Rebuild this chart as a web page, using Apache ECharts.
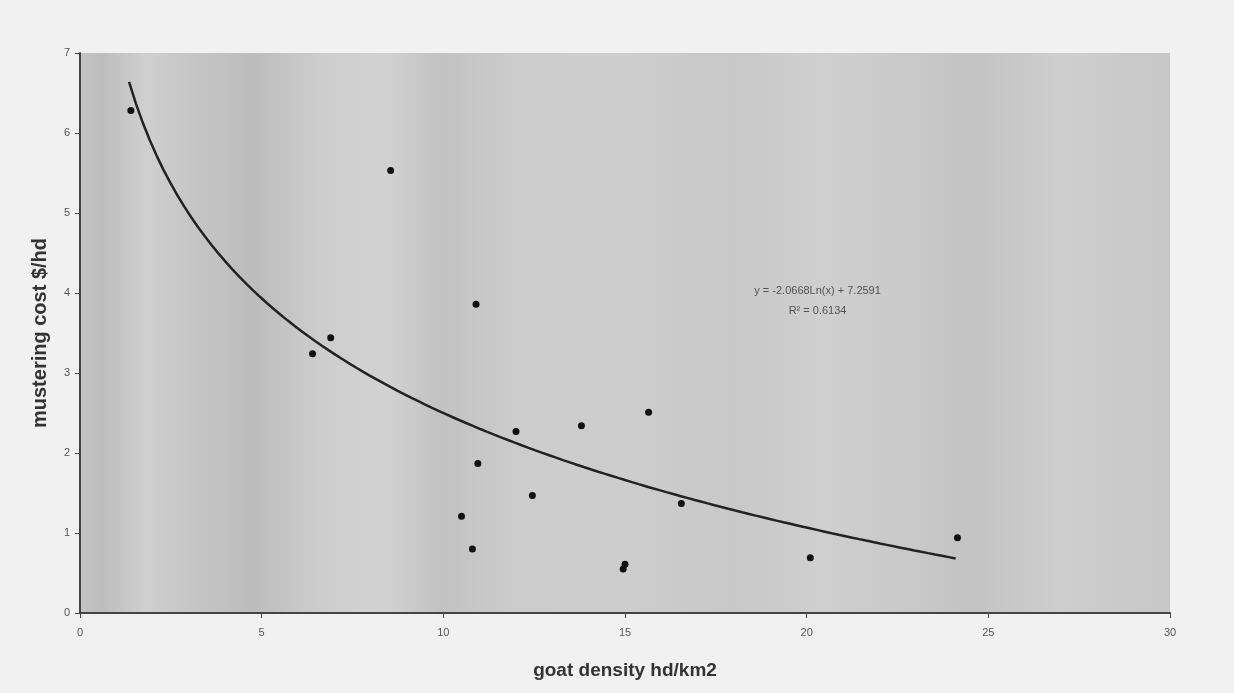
<!DOCTYPE html>
<html><head><meta charset="utf-8">
<script src="https://cdn.jsdelivr.net/npm/echarts@6/dist/echarts.min.js"></script>
<style>html,body{margin:0;padding:0;background:#f1f1f1;}#c{width:1234px;height:693px;}</style>
</head><body><div id="c"></div>
<script>
// goat density (hd/km2)
var densityX = [1.4, 8.55, 10.9, 6.9, 6.4, 12.0, 13.8, 15.65, 10.95, 12.45, 10.5, 10.8, 16.55, 15.0, 14.95, 20.1, 24.15];
// mustering cost ($/hd)
var costY =    [6.28, 5.53, 3.86, 3.44, 3.24, 2.27, 2.34, 2.51, 1.87, 1.47, 1.21, 0.80, 1.37, 0.61, 0.55, 0.69, 0.94];
// logarithmic trendline coefficients shown on chart
var trendA = -2.0668, trendB = 7.2591;
var trendRange = [1.35, 24.1];
var xTicks = [0, 5, 10, 15, 20, 25, 30];
var yTicks = [0, 1, 2, 3, 4, 5, 6, 7];
var eqText = 'y = -2.0668Ln(x) + 7.2591';
var r2Text = 'R² = 0.6134';
var eqAnchor = [20.3, 4.03];
var r2Anchor = [20.3, 3.78];

var points = densityX.map(function (x, i) { return [x, costY[i]]; });
var trend = [];
for (var k = 0; k <= 120; k++) {
  var x = trendRange[0] + (trendRange[1] - trendRange[0]) * k / 120;
  trend.push([x, trendA * Math.log(x) + trendB]);
}

var chart = echarts.init(document.getElementById('c'));
chart.setOption({
  backgroundColor: '#f1f1f1',
  animation: false,
  grid: {
    left: 80, right: 64, top: 53, bottom: 80, show: true, borderWidth: 0,
    backgroundColor: {
      type: 'linear', x: 0, y: 0, x2: 1, y2: 0,
      colorStops: [
        {offset: 0, color: '#c4c4c4'}, {offset: 0.02, color: '#bdbdbd'},
        {offset: 0.06, color: '#cfcfcf'}, {offset: 0.1, color: '#c6c6c6'},
        {offset: 0.16, color: '#bcbcbc'}, {offset: 0.22, color: '#cdcdcd'},
        {offset: 0.28, color: '#d2d2d2'}, {offset: 0.33, color: '#c2c2c2'},
        {offset: 0.4, color: '#cccccc'}, {offset: 0.5, color: '#cdcdcd'},
        {offset: 0.6, color: '#c8c8c8'}, {offset: 0.68, color: '#cfcfcf'},
        {offset: 0.76, color: '#c9c9c9'}, {offset: 0.82, color: '#c3c3c3'},
        {offset: 0.9, color: '#cecece'}, {offset: 1, color: '#c7c7c7'}
      ]
    }
  },
  xAxis: {
    type: 'value', min: 0, max: 30, interval: 5,
    name: 'goat density hd/km2', nameLocation: 'middle', nameGap: 48,
    nameTextStyle: {fontFamily: 'Liberation Sans', fontWeight: 'bold', fontSize: 19, color: '#333'},
    axisLine: {show: true, lineStyle: {color: '#444', width: 2}},
    axisTick: {show: true, length: 5, lineStyle: {color: '#444'}},
    axisLabel: {fontFamily: 'Liberation Sans', fontSize: 11, color: '#555', margin: 14,
      formatter: function (v) { return xTicks.indexOf(v) >= 0 ? String(v) : ''; }},
    splitLine: {show: false}
  },
  yAxis: {
    type: 'value', min: 0, max: 7, interval: 1,
    name: 'mustering cost $/hd', nameLocation: 'middle', nameGap: 30,
    nameTextStyle: {fontFamily: 'Liberation Sans', fontWeight: 'bold', fontSize: 20, color: '#333'},
    axisLine: {show: true, lineStyle: {color: '#444', width: 2}},
    axisTick: {show: true, length: 5, lineStyle: {color: '#444'}},
    axisLabel: {fontFamily: 'Liberation Sans', fontSize: 11, color: '#555', margin: 10,
      formatter: function (v) { return yTicks.indexOf(v) >= 0 ? String(v) : ''; }},
    splitLine: {show: false}
  },
  series: [
    {
      type: 'line', data: trend, showSymbol: false, smooth: false,
      lineStyle: {color: '#222', width: 2.5}, z: 2, silent: true
    },
    {
      type: 'scatter', data: points, symbol: 'circle', symbolSize: 7,
      itemStyle: {color: '#111', opacity: 1}, z: 3
    },
    {
      type: 'scatter', silent: true, symbolSize: 1, itemStyle: {color: 'rgba(0,0,0,0)'},
      data: [
        {value: eqAnchor, label: {show: true, position: 'inside', formatter: eqText}},
        {value: r2Anchor, label: {show: true, position: 'inside', formatter: r2Text}}
      ],
      label: {color: '#333', fontSize: 11, fontFamily: 'Liberation Sans'}, z: 4
    }
  ]
});
</script></body></html>
